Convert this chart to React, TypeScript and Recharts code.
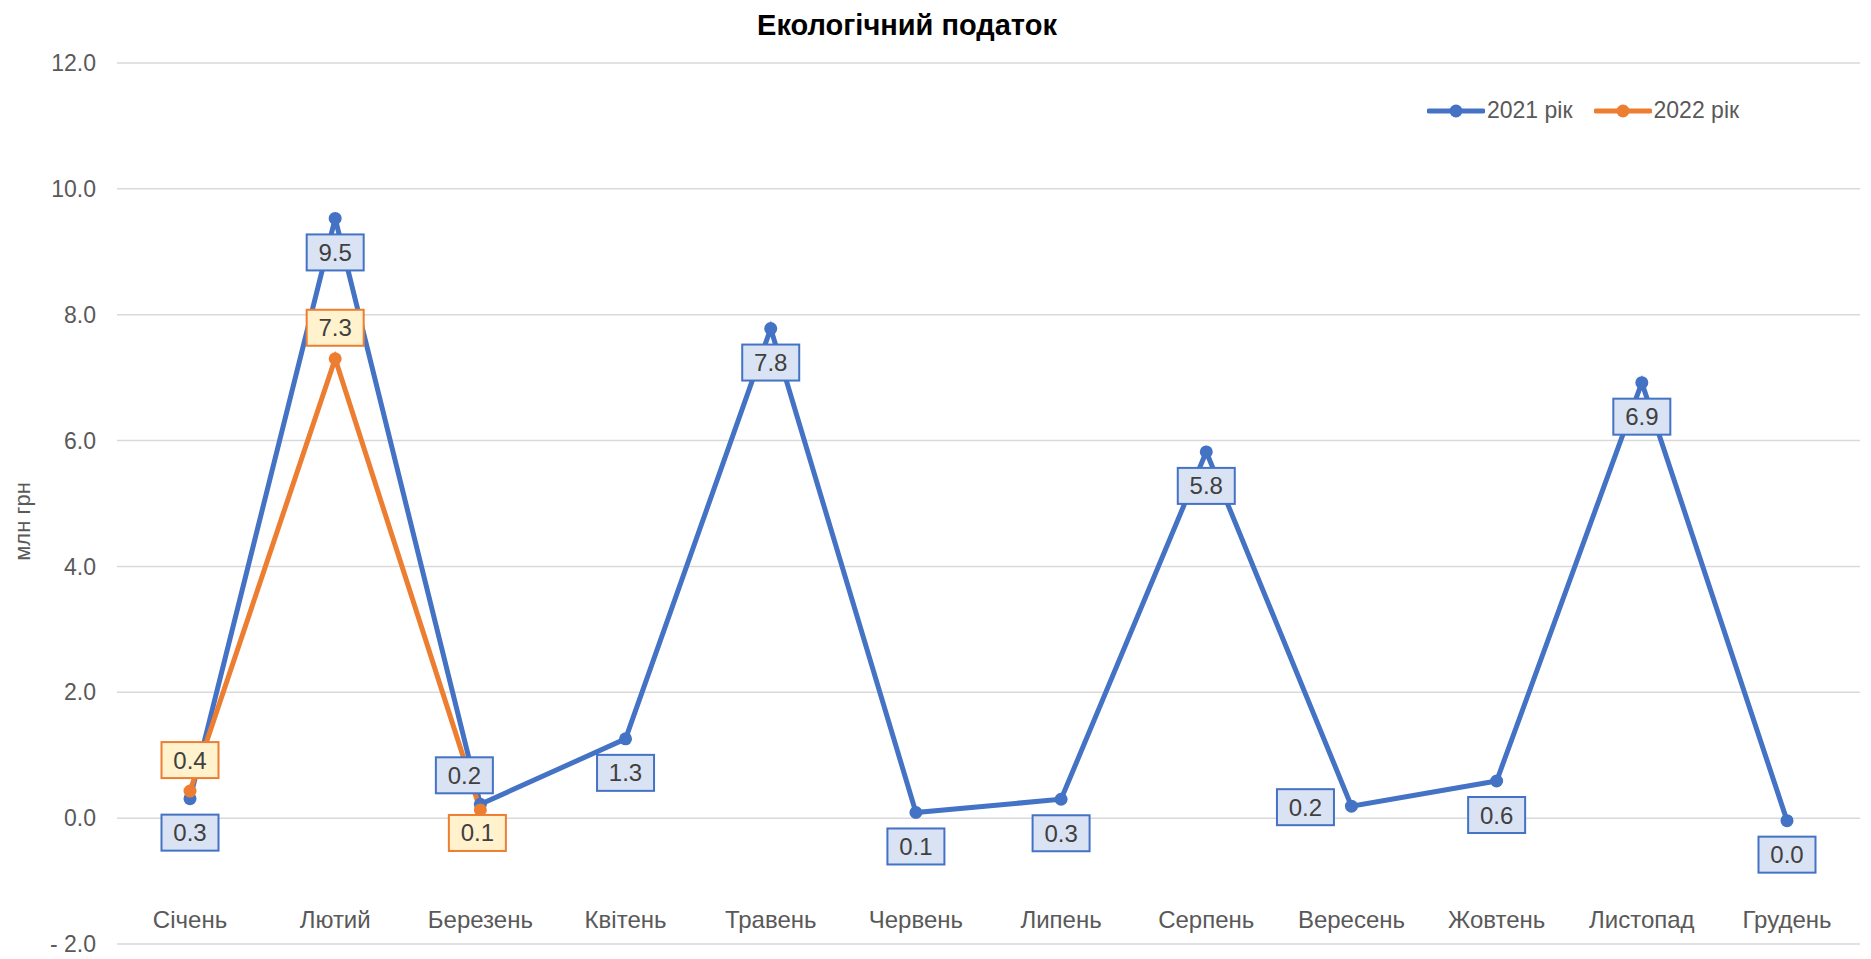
import { LineChart, Line, XAxis, YAxis, CartesianGrid, LabelList } from 'recharts';

const months = ['Січень', 'Лютий', 'Березень', 'Квітень', 'Травень', 'Червень', 'Липень', 'Серпень', 'Вересень', 'Жовтень', 'Листопад', 'Грудень'];
const values2021 = [0.31, 9.53, 0.22, 1.26, 7.78, 0.09, 0.3, 5.82, 0.19, 0.59, 6.92, -0.04];
const values2022 = [0.43, 7.3, 0.13];
const yTicks = [-2, 0, 2, 4, 6, 8, 10, 12];

// label box offsets from the point (Excel put them by hand)
const offsets2021 = [[0, 34], [0, 34], [-16, -29], [0, 34], [0, 34], [0, 34], [0, 34], [0, 34], [-46, 1], [0, 34], [0, 34], [0, 34]];
const offsets2022 = [[0, -31], [0, -31], [-3, 23]];

const BLUE = '#4472C4';
const ORANGE = '#ED7D31';
const FONT = '"Liberation Sans", Arial, sans-serif';

const data = months.map((m, i) => ({
  month: m,
  y2021: values2021[i],
  y2022: i < values2022.length ? values2022[i] : null,
}));

const series = [
  { key: 'y2021', name: '2021 рік', color: BLUE, fill: '#DAE3F3', offsets: offsets2021 },
  { key: 'y2022', name: '2022 рік', color: ORANGE, fill: '#FFF2CC', offsets: offsets2022 },
];

function fmt(v: number) {
  if (Math.abs(v) < 0.05) return '0.0';
  return v < 0 ? '- ' + Math.abs(v).toFixed(1) : v.toFixed(1);
}

function makeLabel(s: typeof series[number]) {
  return (props: any) => {
    const { x, y, value, index } = props;
    if (value == null) return null;
    const [dx, dy] = s.offsets[index] || [0, 34];
    const w = 57;
    const h = 36;
    const cx = x + dx;
    const cy = y + dy;
    return (
      <g>
        <rect x={cx - w / 2} y={cy - h / 2} width={w} height={h} fill={s.fill} stroke={s.color} strokeWidth={2} />
        <text x={cx} y={cy + 8.5} textAnchor="middle" fontSize={24} fontFamily={FONT} fill="#404040">
          {fmt(value)}
        </text>
      </g>
    );
  };
}

function MonthTick(props: any) {
  const { x, y, payload } = props;
  return (
    <text x={x} y={y - 16} textAnchor="middle" fontSize={24} fontFamily={FONT} fill="#595959">
      {payload.value}
    </text>
  );
}

function YLabel(props: any) {
  const vb = props.viewBox;
  const cy = vb.y + vb.height / 2 + 18;
  return (
    <text x={14} y={cy} transform={`rotate(-90 14 ${cy})`} textAnchor="middle" dominantBaseline="central" fontSize={22} fontFamily={FONT} fill="#595959">
      млн грн
    </text>
  );
}

export default function App() {
  return (
    <div style={{ position: 'relative', width: 1863, height: 951, fontFamily: FONT }}>
      <div style={{ position: 'absolute', left: 0, width: 1798, top: 1, textAlign: 'center', fontSize: 29, fontWeight: 'bold', color: '#000' }}>
        Екологічний податок
      </div>
      <div style={{ position: 'absolute', left: 1419, top: 89, display: 'flex', alignItems: 'center', gap: 21 }}>
        {series.map((s) => (
          <div key={s.key} style={{ display: 'flex', alignItems: 'center' }}>
            <svg width={58} height={20}>
              <line x1={2} y1={10} x2={56} y2={10} stroke={s.color} strokeWidth={5} strokeLinecap="round" />
              <circle cx={29} cy={10} r={6.5} fill={s.color} />
            </svg>
            <span style={{ fontSize: 23, color: '#595959', marginLeft: 2 }}>{s.name}</span>
          </div>
        ))}
      </div>
      <LineChart width={1863} height={951} data={data} margin={{ top: 55, right: 11, bottom: 0, left: 0 }}>
        <CartesianGrid vertical={false} stroke="#D9D9D9" strokeWidth={1.5} />
        <XAxis
          dataKey="month"
          axisLine={false}
          tickLine={false}
          tickSize={0}
          tickMargin={0}
          height={15}
          tick={<MonthTick />}
          interval={0}
          padding={{ left: 73, right: 73 }}
        />
        <YAxis
          width={109}
          domain={[-2, 12]}
          ticks={yTicks}
          tickFormatter={fmt}
          axisLine={false}
          tickLine={false}
          tickSize={0}
          tickMargin={21}
          tick={{ fontSize: 23, fill: '#595959', fontFamily: FONT }}
          label={<YLabel />}
        />
        {series.map((s) => (
          <Line
            key={s.key}
            dataKey={s.key}
            stroke={s.color}
            strokeWidth={5}
            dot={{ r: 6.5, fill: s.color, stroke: s.color, strokeWidth: 0 }}
            isAnimationActive={false}
            connectNulls={false}
          >
            <LabelList dataKey={s.key} content={makeLabel(s)} />
          </Line>
        ))}
      </LineChart>
    </div>
  );
}
